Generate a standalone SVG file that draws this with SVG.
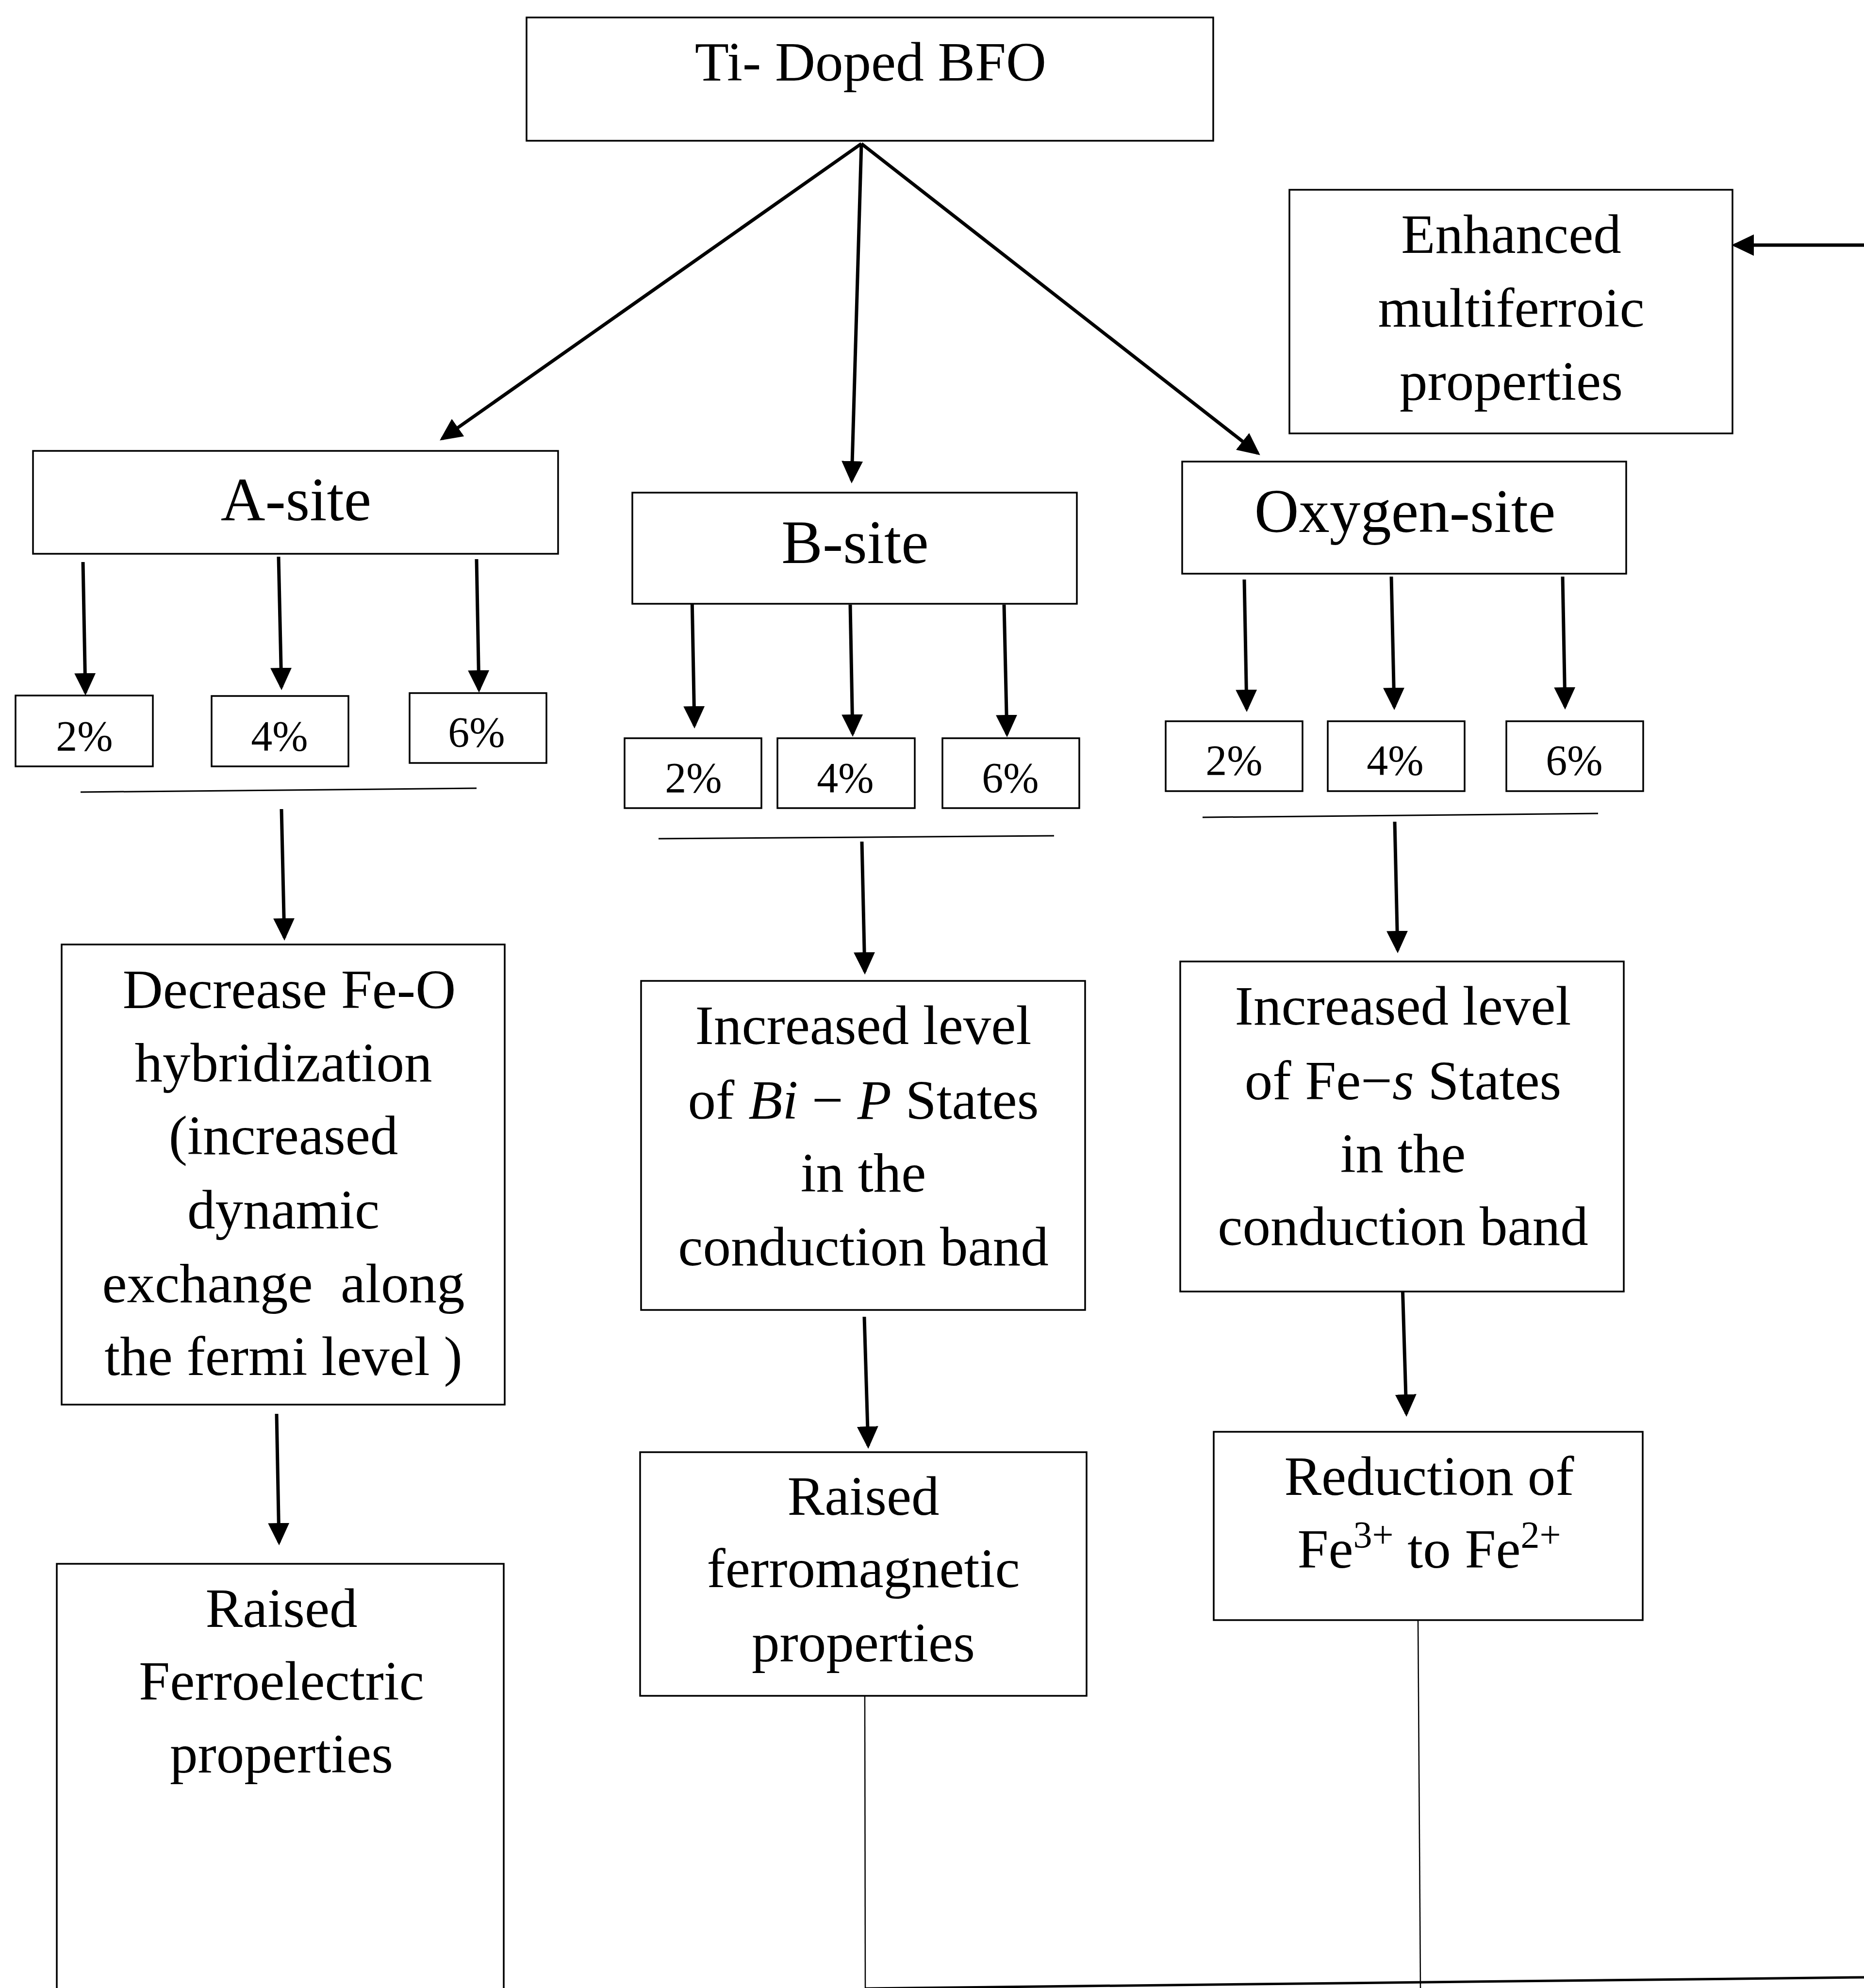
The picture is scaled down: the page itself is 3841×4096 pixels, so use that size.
<svg xmlns="http://www.w3.org/2000/svg" width="3841" height="4096" viewBox="0 0 3841 4096">
<style>
.box{fill:#fff;stroke:#000;stroke-width:3.5}
.t{font-family:"Liberation Serif","Times New Roman",serif;font-size:115px;fill:#000;text-anchor:middle}
.site{font-size:127px}
.pct{font-size:88px}
.arr{stroke:#000;stroke-width:7;fill:none;marker-end:url(#ah)}
.ln{stroke:#000;stroke-width:3;fill:none}
.thin{stroke:#000;stroke-width:2.5;fill:none}
.it{font-style:italic}
</style>
<defs>
<marker id="ah" markerUnits="userSpaceOnUse" markerWidth="46" markerHeight="44" refX="40" refY="22" orient="auto" viewBox="0 0 46 44">
<path d="M0,0 L46,22 L0,44 z" fill="#000"/>
</marker>
</defs>
<rect width="3841" height="4096" fill="#fff"/>

<g id="connectors">
<line class="arr" x1="1775" y1="296" x2="911" y2="904"/>
<line class="arr" x1="1775" y1="296" x2="1755" y2="990"/>
<line class="arr" x1="1775" y1="296" x2="2592" y2="934"/>
<line class="arr" x1="3841" y1="505" x2="3574" y2="505"/>
<line class="arr" x1="171" y1="1158" x2="176" y2="1427"/>
<line class="arr" x1="574" y1="1147" x2="580" y2="1416"/>
<line class="arr" x1="982" y1="1152" x2="987" y2="1421"/>
<line class="arr" x1="1426" y1="1228" x2="1431" y2="1495"/>
<line class="arr" x1="1752" y1="1246" x2="1757" y2="1512"/>
<line class="arr" x1="2069" y1="1246" x2="2075" y2="1513"/>
<line class="arr" x1="2564" y1="1194" x2="2569" y2="1461"/>
<line class="arr" x1="2867" y1="1188" x2="2873" y2="1457"/>
<line class="arr" x1="3220" y1="1188" x2="3225" y2="1456"/>
<line class="ln" x1="166" y1="1632" x2="982" y2="1624"/>
<line class="ln" x1="1357" y1="1728" x2="2172" y2="1722"/>
<line class="ln" x1="2478" y1="1684" x2="3293" y2="1676"/>
<line class="arr" x1="580" y1="1667" x2="586" y2="1932"/>
<line class="arr" x1="1776" y1="1734" x2="1782" y2="2002"/>
<line class="arr" x1="2874" y1="1693" x2="2880" y2="1958"/>
<line class="arr" x1="570" y1="2913" x2="575" y2="3178"/>
<line class="arr" x1="1781" y1="2713" x2="1789" y2="2979"/>
<line class="arr" x1="2890" y1="2646" x2="2898" y2="2913"/>
<line class="thin" x1="1782" y1="3494" x2="1783" y2="4096"/>
<line class="thin" x1="2922" y1="3338" x2="2927" y2="4096"/>
<line class="ln" x1="1783" y1="4097" x2="3841" y2="4074" style="stroke-width:5"/>
</g>

<g id="ti-doped-bfo">
<rect class="box" x="1085" y="36" width="1415" height="254"/>
<text class="t" x="1794" y="166">Ti- Doped BFO</text>
</g>

<g id="enhanced">
<rect class="box" x="2657" y="391" width="913" height="502"/>
<text class="t" x="3114" y="521">Enhanced</text>
<text class="t" x="3114" y="673">multiferroic</text>
<text class="t" x="3114" y="824">properties</text>
</g>

<g id="a-site">
<rect class="box" x="68" y="929" width="1082" height="212"/>
<text class="t site" x="610" y="1072">A-site</text>
</g>

<g id="b-site">
<rect class="box" x="1303" y="1015" width="916" height="229"/>
<text class="t site" x="1762" y="1160">B-site</text>
</g>

<g id="oxygen-site">
<rect class="box" x="2436" y="951" width="915" height="231"/>
<text class="t site" x="2895" y="1096">Oxygen-site</text>
</g>

<g id="a-2">
<rect class="box" x="32" y="1433" width="283" height="146"/>
<text class="t pct" x="174" y="1546">2%</text>
</g>
<g id="a-4">
<rect class="box" x="436" y="1434" width="282" height="145"/>
<text class="t pct" x="576" y="1546">4%</text>
</g>
<g id="a-6">
<rect class="box" x="844" y="1428" width="282" height="144"/>
<text class="t pct" x="982" y="1538">6%</text>
</g>

<g id="b-2">
<rect class="box" x="1287" y="1521" width="282" height="144"/>
<text class="t pct" x="1429" y="1632">2%</text>
</g>
<g id="b-4">
<rect class="box" x="1602" y="1521" width="283" height="144"/>
<text class="t pct" x="1742" y="1632">4%</text>
</g>
<g id="b-6">
<rect class="box" x="1942" y="1521" width="282" height="144"/>
<text class="t pct" x="2082" y="1632">6%</text>
</g>

<g id="o-2">
<rect class="box" x="2402" y="1486" width="282" height="144"/>
<text class="t pct" x="2543" y="1596">2%</text>
</g>
<g id="o-4">
<rect class="box" x="2736" y="1486" width="282" height="144"/>
<text class="t pct" x="2875" y="1596">4%</text>
</g>
<g id="o-6">
<rect class="box" x="3104" y="1486" width="282" height="144"/>
<text class="t pct" x="3244" y="1596">6%</text>
</g>

<g id="decrease-fe-o">
<rect class="box" x="127" y="1946" width="913" height="948"/>
<text class="t" x="596" y="2077">Decrease Fe-O</text>
<text class="t" x="584" y="2228">hybridization</text>
<text class="t" x="584" y="2378">(increased</text>
<text class="t" x="584" y="2531">dynamic</text>
<text class="t" x="584" y="2683" xml:space="preserve">exchange  along</text>
<text class="t" x="584" y="2833">the fermi level )</text>
</g>

<g id="bi-p-states">
<rect class="box" x="1321" y="2021" width="915" height="678"/>
<text class="t" x="1779" y="2151">Increased level</text>
<text class="t" x="1779" y="2305">of <tspan class="it">Bi</tspan> − <tspan class="it">P</tspan> States</text>
<text class="t" x="1779" y="2455">in the</text>
<text class="t" x="1779" y="2607">conduction band</text>
</g>

<g id="fe-s-states">
<rect class="box" x="2432" y="1981" width="914" height="680"/>
<text class="t" x="2891" y="2111">Increased level</text>
<text class="t" x="2891" y="2265">of Fe−<tspan class="it">s</tspan> States</text>
<text class="t" x="2891" y="2415">in the</text>
<text class="t" x="2891" y="2565">conduction band</text>
</g>

<g id="raised-ferroelectric">
<rect class="box" x="117" y="3222" width="921" height="920"/>
<text class="t" x="580" y="3352">Raised</text>
<text class="t" x="580" y="3502">Ferroelectric</text>
<text class="t" x="580" y="3652">properties</text>
</g>

<g id="raised-ferromagnetic">
<rect class="box" x="1319" y="2992" width="920" height="502"/>
<text class="t" x="1779" y="3121">Raised</text>
<text class="t" x="1779" y="3270">ferromagnetic</text>
<text class="t" x="1779" y="3423">properties</text>
</g>

<g id="reduction">
<rect class="box" x="2501" y="2950" width="884" height="388"/>
<text class="t" x="2945" y="3080">Reduction of</text>
<text class="t" x="2945" y="3230">Fe<tspan font-size="78" dy="-42">3+</tspan><tspan dy="42"> to Fe</tspan><tspan font-size="78" dy="-42">2+</tspan></text>
</g>
</svg>
